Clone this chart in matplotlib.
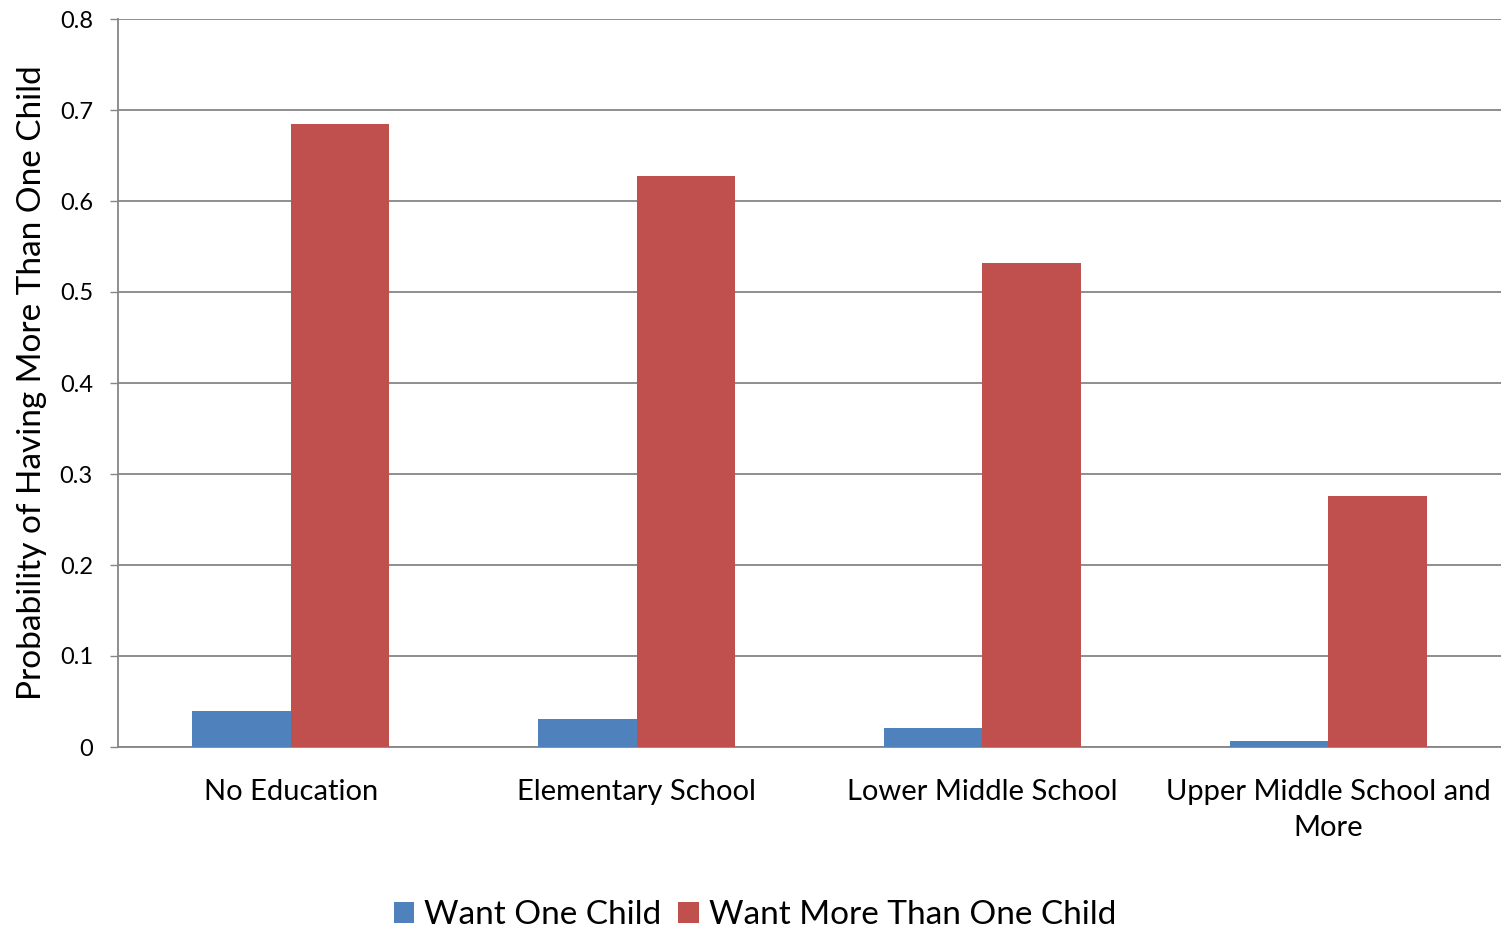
import numpy as np
import matplotlib
matplotlib.use('Agg')
import matplotlib.pyplot as plt

plt.rcParams['font.family'] = ['Lato', 'DejaVu Sans']

categories = ['No Education', 'Elementary School', 'Lower Middle School', 'Upper Middle School and\nMore']
want_one = [0.040, 0.031, 0.021, 0.007]
want_more = [0.685, 0.627, 0.532, 0.276]
series_names = ['Want One Child', 'Want More Than One Child']
y_ticks = [0, 0.1, 0.2, 0.3, 0.4, 0.5, 0.6, 0.7, 0.8]
y_tick_labels = ['0', '0.1', '0.2', '0.3', '0.4', '0.5', '0.6', '0.7', '0.8']

fig = plt.figure(figsize=(15.01, 9.3), dpi=100)
ax = fig.add_axes([118 / 1501, 1 - 747 / 930, 1 - 118 / 1501, (747 - 19) / 930])

x = np.arange(len(categories))
w = 0.285
grid_color = '#868686'

ax.bar(x - w / 2, want_one, w, color='#4F81BD', label=series_names[0], zorder=3)
ax.bar(x + w / 2, want_more, w, color='#C0504D', label=series_names[1], zorder=3)

ax.set_xlim(-0.5, 3.5)
ax.set_ylim(0, 0.8)
ax.set_yticks(y_ticks)
ax.set_yticklabels(y_tick_labels, fontsize=17)
ax.set_xticks(x)
ax.set_xticklabels(categories, fontsize=21, linespacing=1.5)
ax.tick_params(axis='x', length=0, pad=23)
ax.tick_params(axis='y', length=6, width=1, color=grid_color, pad=12)
ax.yaxis.grid(True, color=grid_color, linewidth=1.3, zorder=0)

for s in ['top', 'right']:
    ax.spines[s].set_visible(False)
for s in ['left', 'bottom']:
    ax.spines[s].set_color(grid_color)
    ax.spines[s].set_linewidth(1.3)

ax.set_ylabel('Probability of Having More Than One Child', fontsize=24, labelpad=9)

fig.legend(loc='center', bbox_to_anchor=(0.503, 0.016), ncol=2, frameon=False,
           fontsize=24, handlelength=0.62, handleheight=0.62, handletextpad=0.3,
           columnspacing=0.5)

fig.savefig('out.png', dpi=100)
